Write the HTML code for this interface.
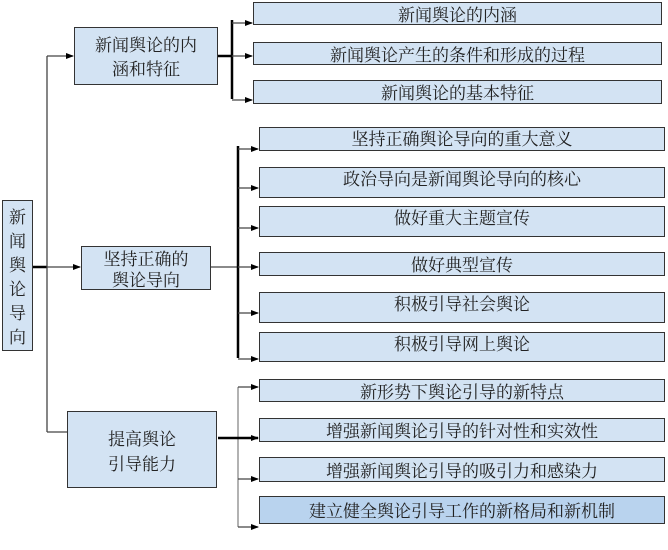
<!DOCTYPE html>
<html><head><meta charset="utf-8"><style>
body{margin:0;background:#fff;width:668px;height:550px;overflow:hidden;font-family:"Noto Serif CJK SC","Liberation Serif",serif;}
.b{position:absolute;box-sizing:border-box;background:#d3e3f3;border:1px solid #333;color:#222;font-size:17px;display:flex;align-items:center;justify-content:center;text-align:center;line-height:20px;}
</style></head><body>
<svg width="668" height="550" style="position:absolute;left:0;top:0">
<defs><marker id="a" markerWidth="8" markerHeight="8" refX="7" refY="4" orient="auto" markerUnits="userSpaceOnUse"><path d="M0,1 L8,4 L0,7z" fill="#000"/></marker></defs>
<g stroke="#444" stroke-width="1.3" fill="none">
<line x1="33" y1="267" x2="47" y2="267" stroke="#000" stroke-width="2.5"/>
<line x1="47" y1="56" x2="47" y2="432"/>
<line x1="47" y1="56" x2="73" y2="56" marker-end="url(#a)"/>
<line x1="47" y1="267" x2="80" y2="267" marker-end="url(#a)"/>
<line x1="47" y1="432" x2="67" y2="432"/>
<line x1="218" y1="56" x2="232" y2="56" stroke="#000" stroke-width="2.5"/>
<line x1="232" y1="20" x2="232" y2="99" stroke="#000" stroke-width="2.5"/>
<line x1="232" y1="23" x2="252" y2="23" marker-end="url(#a)"/>
<line x1="232" y1="56" x2="252" y2="56" marker-end="url(#a)"/>
<line x1="232" y1="100" x2="252" y2="100" marker-end="url(#a)"/>
<line x1="211" y1="267" x2="238" y2="267"/>
<line x1="238" y1="146" x2="238" y2="358" stroke="#000" stroke-width="2.5"/>
<line x1="238" y1="149" x2="258" y2="149" marker-end="url(#a)"/>
<line x1="238" y1="188" x2="258" y2="188" marker-end="url(#a)"/>
<line x1="238" y1="228" x2="258" y2="228" marker-end="url(#a)"/>
<line x1="238" y1="267" x2="258" y2="267" marker-end="url(#a)"/>
<line x1="238" y1="313" x2="258" y2="313" marker-end="url(#a)"/>
<line x1="238" y1="359" x2="258" y2="359" marker-end="url(#a)"/>
<line x1="238" y1="387" x2="238" y2="527" stroke="#888"/>
<line x1="238" y1="387" x2="258" y2="387" marker-end="url(#a)"/>
<line x1="218" y1="438" x2="258" y2="438" stroke="#000" stroke-width="2.5" marker-end="url(#a)"/>
<line x1="238" y1="479" x2="258" y2="479" marker-end="url(#a)"/>
<line x1="238" y1="527" x2="258" y2="527" marker-end="url(#a)"/>
</g></svg>
<div class="b" style="left:2px;top:200px;width:31px;height:151px;line-height:24px;font-size:17px">新<br>闻<br>舆<br>论<br>导<br>向</div>
<div class="b" style="left:74px;top:27px;width:144px;height:58px;line-height:24px">新闻舆论的内<br>涵和特征</div>
<div class="b" style="left:81px;top:246px;width:130px;height:44px;line-height:21px">坚持正确的<br>舆论导向</div>
<div class="b" style="left:67px;top:411px;width:150px;height:77px;line-height:25px">提高舆论<br>引导能力</div>
<div class="b" style="left:253px;top:2px;width:409px;height:23px">新闻舆论的内涵</div>
<div class="b" style="left:253px;top:42px;width:409px;height:23px">新闻舆论产生的条件和形成的过程</div>
<div class="b" style="left:253px;top:80px;width:409px;height:24px">新闻舆论的基本特征</div>
<div class="b" style="left:259px;top:127px;width:406px;height:24px;align-items:flex-start">坚持正确舆论导向的重大意义</div>
<div class="b" style="left:259px;top:167px;width:406px;height:31px;align-items:flex-start">政治导向是新闻舆论导向的核心</div>
<div class="b" style="left:259px;top:206px;width:406px;height:31px;align-items:flex-start">做好重大主题宣传</div>
<div class="b" style="left:259px;top:252px;width:406px;height:24px">做好典型宣传</div>
<div class="b" style="left:259px;top:292px;width:406px;height:31px;align-items:flex-start">积极引导社会舆论</div>
<div class="b" style="left:259px;top:332px;width:406px;height:30px;align-items:flex-start">积极引导网上舆论</div>
<div class="b" style="left:259px;top:379px;width:406px;height:23px">新形势下舆论引导的新特点</div>
<div class="b" style="left:259px;top:418px;width:406px;height:24px">增强新闻舆论引导的针对性和实效性</div>
<div class="b" style="left:259px;top:457px;width:406px;height:25px">增强新闻舆论引导的吸引力和感染力</div>
<div class="b" style="left:259px;top:496px;width:406px;height:28px;background:#b9d3ee">建立健全舆论引导工作的新格局和新机制</div>
</body></html>
